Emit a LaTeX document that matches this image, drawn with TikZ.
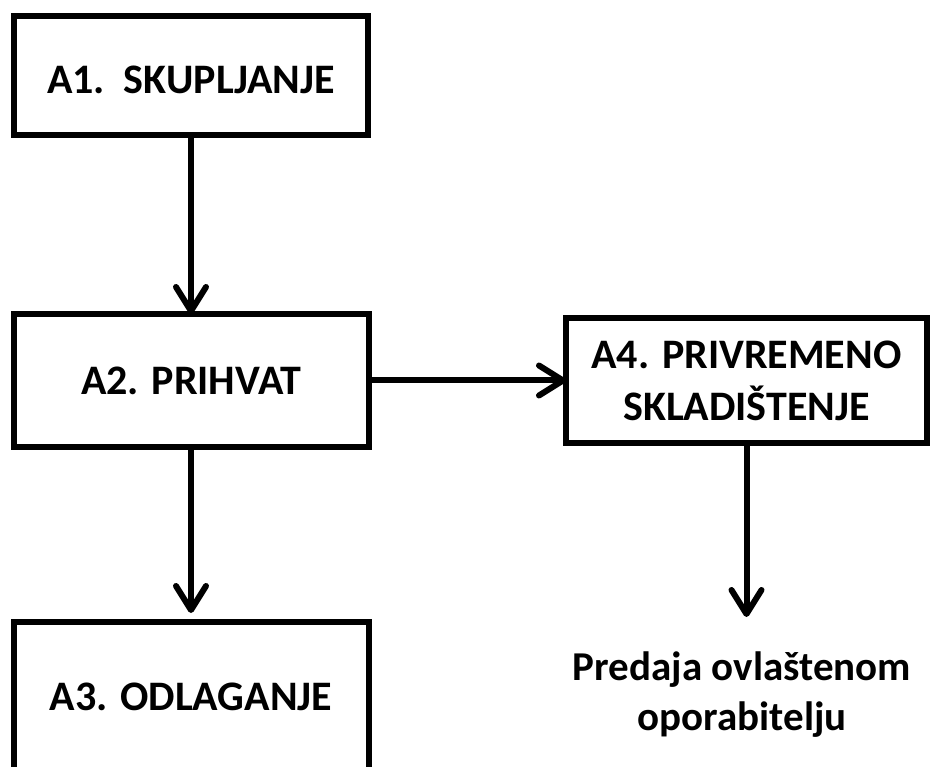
\documentclass[tikz,border=0pt]{standalone}
\usepackage{fontspec}
\setmainfont{Carlito}
\usetikzlibrary{arrows.meta}
\tikzset{
  box/.style={draw=black, line width=6pt, rectangle, inner sep=0pt, outer sep=0pt,
    font=\bfseries\fontsize{42}{52}\selectfont, align=center},
  lbl/.style={font=\bfseries\fontsize{41}{50}\selectfont, align=center, inner sep=0pt},
  conn/.style={draw=black, line width=6pt,
    -{Straight Barb[length=24pt, width=30pt, line cap=round, line join=round]}}
}
\begin{document}
\begin{tikzpicture}[x=1pt, y=-1pt]
\useasboundingbox (0,0) rectangle (930,767);
\node[box, minimum width=354pt, minimum height=119pt, text depth=0pt, text height=36pt] (A1) at (191,75.5) {A1.\ \ SKUPLJANJE};
\node[box, minimum width=355pt, minimum height=133pt] (A2) at (191,380.5) {A2. PRIHVAT};
\node[box, minimum width=355pt, minimum height=150pt] (A3) at (191,697) {A3. ODLAGANJE};
\node[box, minimum width=361pt, minimum height=125pt] (A4) at (746.5,380.5) {A4. PRIVREMENO\\SKLADIŠTENJE};
\node[lbl] (P) at (742,695) {Predaja ovlaštenom\\oporabitelju};
\coordinate (pend) at (746.5,617);
\coordinate (a3end) at (191,613);
\draw[conn] (A1.south) -- (A2.north);
\draw[conn] (A2.south) -- (a3end);
\draw[conn] (A2.east) -- (A4.west);
\draw[conn] (A4.south) -- (pend);
\end{tikzpicture}
\end{document}
